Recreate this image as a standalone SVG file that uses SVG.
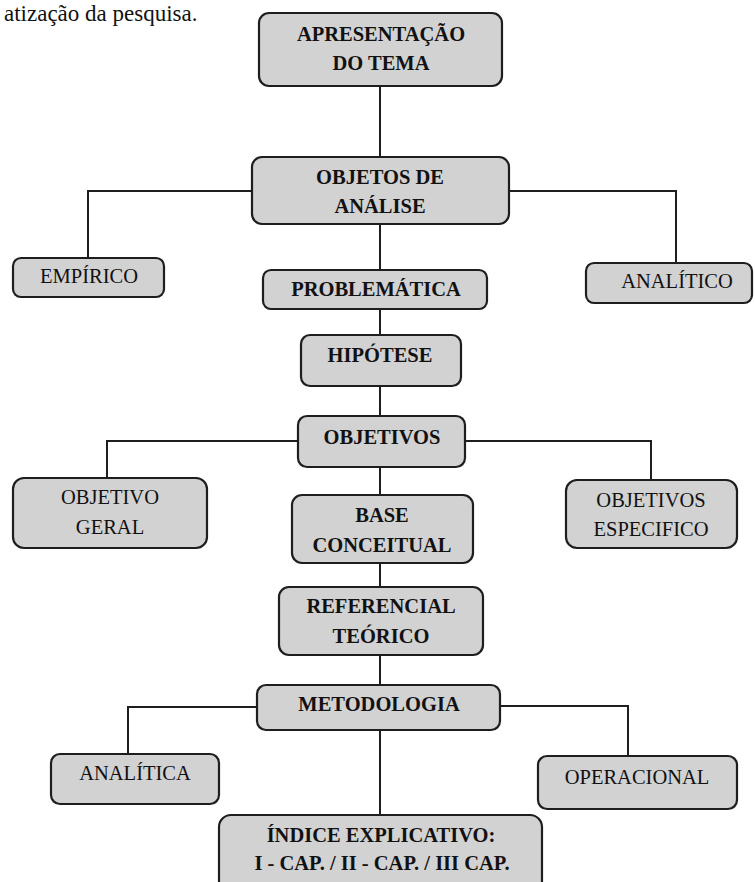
<svg xmlns="http://www.w3.org/2000/svg" width="755" height="882" viewBox="0 0 755 882">
<style>
.box{fill:#d2d2d2;stroke:#1e1e1e;stroke-width:2.2}
.t{font-family:"Liberation Serif","Times New Roman",serif;font-size:20.5px;fill:#111;text-anchor:middle}
.b{font-weight:bold}
.c{fill:none;stroke:#1e1e1e;stroke-width:2}
</style>
<rect width="755" height="882" fill="#fff"/>
<text x="4" y="21" font-family="Liberation Serif, serif" font-size="23" fill="#111">atização da pesquisa.</text>
<g id="connectors">
<path class="c" d="M380 86V157M380 224V270M380 309V335M380 386V416M380 467V495M380 563V587M380 655V685M380 730V815"/>
<path class="c" d="M252 191H88V258M509 191H676V263"/>
<path class="c" d="M298 441H107V478M465 441H651V480"/>
<path class="c" d="M257 707H128V754M500 706H628V756"/>
</g>
<g id="apresentacao"><rect class="box" x="259" y="13" width="243" height="73" rx="10"/><text class="t b" x="381" y="41">APRESENTAÇÃO</text><text class="t b" x="381" y="70">DO TEMA</text></g>
<g id="objetos"><rect class="box" x="252" y="157" width="257" height="67" rx="10"/><text class="t b" x="380" y="184">OBJETOS DE</text><text class="t b" x="380" y="213">ANÁLISE</text></g>
<g id="empirico"><rect class="box" x="13" y="258" width="151" height="39" rx="8"/><text class="t" x="89" y="283">EMPÍRICO</text></g>
<g id="analitico"><rect class="box" x="586" y="263" width="166" height="40" rx="8"/><text class="t" x="677" y="288">ANALÍTICO</text></g>
<g id="problematica"><rect class="box" x="263" y="270" width="224" height="39" rx="8"/><text class="t b" x="376" y="296">PROBLEMÁTICA</text></g>
<g id="hipotese"><rect class="box" x="301" y="335" width="160" height="51" rx="9"/><text class="t b" x="380" y="362">HIPÓTESE</text></g>
<g id="objetivos"><rect class="box" x="298" y="416" width="167" height="51" rx="9"/><text class="t b" x="382" y="444">OBJETIVOS</text></g>
<g id="objetivo-geral"><rect class="box" x="13" y="478" width="194" height="70" rx="11"/><text class="t" x="110" y="504">OBJETIVO</text><text class="t" x="110" y="534">GERAL</text></g>
<g id="objetivos-especifico"><rect class="box" x="566" y="480" width="171" height="68" rx="11"/><text class="t" x="651" y="507">OBJETIVOS</text><text class="t" x="651" y="536">ESPECIFICO</text></g>
<g id="base"><rect class="box" x="292" y="495" width="181" height="68" rx="10"/><text class="t b" x="382" y="522">BASE</text><text class="t b" x="382" y="552">CONCEITUAL</text></g>
<g id="referencial"><rect class="box" x="279" y="587" width="204" height="68" rx="10"/><text class="t b" x="381" y="613">REFERENCIAL</text><text class="t b" x="381" y="643">TEÓRICO</text></g>
<g id="metodologia"><rect class="box" x="257" y="685" width="243" height="45" rx="9"/><text class="t b" x="379" y="711">METODOLOGIA</text></g>
<g id="analitica"><rect class="box" x="51" y="754" width="168" height="50" rx="9"/><text class="t" x="135" y="780">ANALÍTICA</text></g>
<g id="operacional"><rect class="box" x="538" y="756" width="199" height="53" rx="9"/><text class="t" x="637" y="784">OPERACIONAL</text></g>
<g id="indice"><rect class="box" x="219" y="815" width="323" height="80" rx="12"/><text class="t b" x="381" y="842">ÍNDICE EXPLICATIVO:</text><text class="t b" x="382" y="870">I - CAP. / II - CAP. / III CAP.</text></g>
</svg>
